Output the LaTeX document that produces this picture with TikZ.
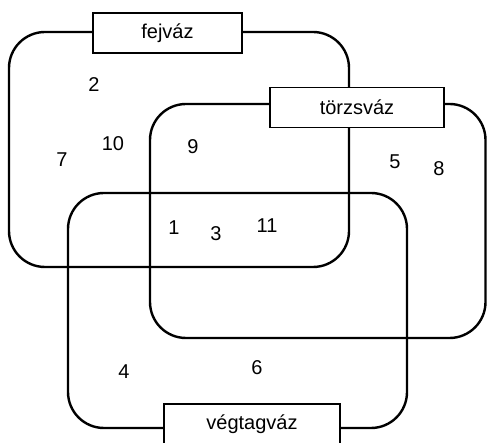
\documentclass[tikz,border=0pt]{standalone}
\usepackage{fontspec}
\setmainfont{Liberation Sans}
\begin{document}
\begin{tikzpicture}[x=1pt,y=-1pt,font=\fontsize{20}{24}\selectfont,
	set/.style={line width=2.4pt,rounded corners=36pt},
	tag/.style={draw,line width=1.6pt,fill=white,minimum height=40pt,inner sep=0pt},
	num/.style={inner sep=0pt}]
	\useasboundingbox (0,0) rectangle (487,443);
	% the three sets
	\draw [set] (9,32) rectangle (349,267);
	\draw [set] (150,104) rectangle (485.5,338);
	\draw [set] (68,193) rectangle (407,428);
	% labels
	\node [tag,minimum width=149pt] (fej) at (167.5,33) {fejváz};
	\node [tag,minimum width=174pt] (torzs) at (357,107.5) {törzsváz};
	\node [tag,minimum width=176pt] (vegtag) at (252,424) {végtagváz};
	% elements
	\node [num] (n2) at (94,85) {2};
	\node [num] (n10) at (113,144) {10};
	\node [num] (n7) at (62,160) {7};
	\node [num] (n9) at (193,147) {9};
	\node [num] (n5) at (395,162) {5};
	\node [num] (n8) at (439,169) {8};
	\node [num] (n1) at (174,228) {1};
	\node [num] (n3) at (216,234) {3};
	\node [num] (n11) at (267,226) {11};
	\node [num] (n4) at (124,372) {4};
	\node [num] (n6) at (257,368) {6};
\end{tikzpicture}
\end{document}
